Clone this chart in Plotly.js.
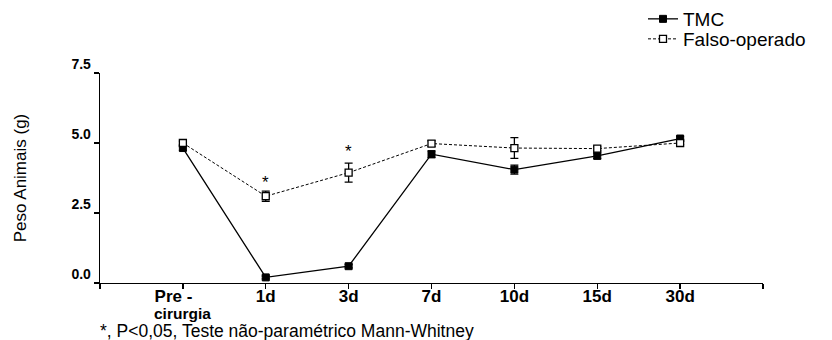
<!DOCTYPE html>
<html>
<head>
<meta charset="utf-8">
<script src="https://cdn.plot.ly/plotly-3.0.1.min.js"></script>
<style>html,body{margin:0;padding:0;background:#fff;}#chart{width:832px;height:340px;}</style>
</head>
<body>
<div id="chart"></div>
<script>
const categories = ["Pre -", "1d", "3d", "7d", "10d", "15d", "30d"];
const categorySubLabel = "cirurgia";
const tmcValues = [4.82, 0.2, 0.6, 4.6, 4.05, 4.54, 5.16];
const tmcErrors = [0.08, 0.05, 0.06, 0.12, 0.16, 0.1, 0.07];
const falsoValues = [5.0, 3.1, 3.94, 4.98, 4.82, 4.8, 5.0];
const falsoErrors = [0.07, 0.18, 0.34, 0.1, 0.37, 0.08, 0.06];
const starLabels = ["*", "*"];
const starIndex = [1, 2];
const starY = [3.6, 4.68];
const yTickVals = [0, 2.5, 5, 7.5];
const yTickText = ["0.0", "2.5", "5.0", "7.5"];
const caption = "*, P<0,05, Teste não-paramétrico Mann-Whitney";

const xIdx = categories.map((c, i) => i);
const font = "Liberation Sans, Arial, sans-serif";

// plot area geometry (pixels)
const W = 832, H = 340, L = 100, R = 69, T = 73, B = 57;
const ph = H - T - B;
const py = (pix) => (H - B - pix) / ph; // pixel y -> paper y
const pw = W - L - R;
const px = (pix) => (pix - L) / pw;

const traces = [
  {
    x: xIdx, y: tmcValues, name: "TMC", type: "scatter", mode: "lines+markers",
    legend: "legend",
    line: {color: "#000", width: 1.3},
    marker: {symbol: "square", size: 7, color: "#000", line: {color: "#000", width: 1}},
    error_y: {type: "data", array: tmcErrors, visible: true, color: "#000", thickness: 1.3, width: 4}
  },
  {
    x: xIdx, y: falsoValues, name: "Falso-operado", type: "scatter", mode: "lines+markers",
    legend: "legend2",
    line: {color: "#000", width: 1, dash: "3px,2px"},
    marker: {symbol: "square", size: 7, color: "#fff", line: {color: "#000", width: 1.3}},
    error_y: {type: "data", array: falsoErrors, visible: true, color: "#000", thickness: 1.3, width: 4}
  }
];

const annotations = starIndex.map((xi, k) => ({
  x: xi, y: starY[k], xref: "x", yref: "y", text: starLabels[k], showarrow: false,
  font: {family: font, size: 17, color: "#000"}
}));
annotations.push({
  x: 0, y: py(313.5), xref: "x", yref: "paper", text: categorySubLabel, showarrow: false,
  xanchor: "center", yanchor: "middle", borderpad: 0,
  font: {family: font, size: 15.5, color: "#000", weight: "bold"}
});
annotations.push({
  x: px(98), y: py(331), xref: "paper", yref: "paper", text: caption, showarrow: false,
  xanchor: "left", yanchor: "middle",
  font: {family: font, size: 17.5, color: "#000"}
});

const legendBase = {
  xanchor: "left", yanchor: "middle", xref: "paper", yref: "paper",
  font: {family: font, size: 19, color: "#000"}, bgcolor: "rgba(0,0,0,0)", itemwidth: 30
};

const layout = {
  width: W, height: H,
  margin: {l: L, r: R, t: T, b: B, autoexpand: false},
  paper_bgcolor: "#fff", plot_bgcolor: "#fff",
  showlegend: true,
  legend: Object.assign({}, legendBase, {x: px(643), y: py(19)}),
  legend2: Object.assign({}, legendBase, {x: px(643), y: py(39)}),
  xaxis: {
    range: [-1, 7], tickmode: "array",
    tickvals: [-1, 0, 1, 2, 3, 4, 5, 6, 7],
    ticktext: [""].concat(categories.map((c, i) => i === 0 ? c + "\u00a0\u00a0\u00a0\u00a0" : c)).concat([""]),
    showgrid: false, zeroline: false, showline: true, linecolor: "#000", linewidth: 1.3,
    ticks: "outside", ticklen: 5, tickwidth: 1.3, tickcolor: "#000",
    ticklabelstandoff: -8,
    tickfont: {family: font, size: 17, color: "#000", weight: "bold"}
  },
  yaxis: {
    range: [0, 7.5], tickmode: "array", tickvals: yTickVals, ticktext: yTickText,
    showgrid: false, zeroline: false, showline: true, linecolor: "#000", linewidth: 1.3,
    ticks: "outside", ticklen: 5, tickwidth: 1.3, tickcolor: "#000",
    ticklabelshift: -9,
    tickfont: {family: font, size: 14, color: "#000", weight: "bold"},
    title: {text: "Peso Animais (g)", font: {family: font, size: 17, color: "#000"}, standoff: 40}
  },
  annotations: annotations
};

Plotly.newPlot("chart", traces, layout, {displayModeBar: false, staticPlot: true});
</script>
</body>
</html>
